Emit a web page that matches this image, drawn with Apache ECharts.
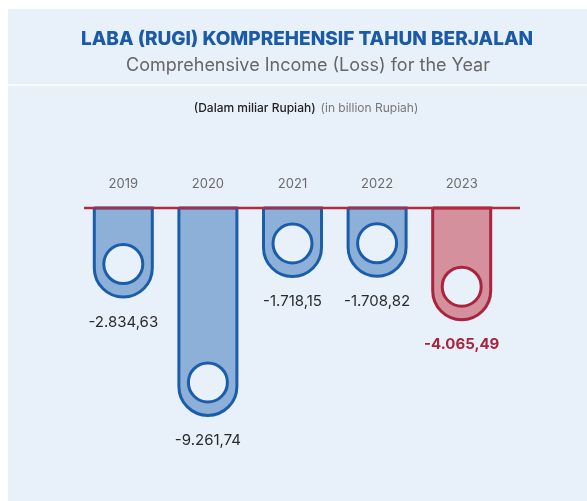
<!DOCTYPE html>
<html>
<head>
<meta charset="utf-8">
<script src="https://cdn.jsdelivr.net/npm/echarts@6/dist/echarts.min.js"></script>
<style>
  html, body { margin: 0; padding: 0; background: #ffffff; }
  #chart { width: 587px; height: 501px; }
</style>
</head>
<body>
<div id="chart"></div>
<script>
// data (miliar Rupiah)
const years = ["2019", "2020", "2021", "2022", "2023"];
const values = [-2834.63, -9261.74, -1718.15, -1708.82, -4065.49];
const labels = ["-2.834,63", "-9.261,74", "-1.718,15", "-1.708,82", "-4.065,49"];
const highlight = "2023";

const panelBg = "#e8f0fa";
const blue = { fill: "#8db0d8", stroke: "#1c5dab" };
const red = { fill: "#d4909c", stroke: "#a9243c" };

// top of the value axis is where the bars hang from
const axisTop = 2000;
const axisBottom = -10000;

const renderBar = (params, api) => {
  const i = api.value(0);
  const top = api.coord([i, axisTop]);
  const end = api.coord([i, api.value(1)]);
  const w = 58;
  const r = w / 2;
  const c = years[i] === highlight ? red : blue;
  const bottom = end[1];
  const cx = top[0];
  return {
    type: "group",
    children: [
      {
        type: "rect",
        shape: { x: cx - w / 2, y: top[1], width: w, height: bottom - top[1], r: [0, 0, r, r] },
        style: { fill: c.fill, stroke: c.stroke, lineWidth: 3 }
      },
      {
        type: "circle",
        shape: { cx: cx, cy: bottom - 33, r: 19.5 },
        style: { fill: panelBg, stroke: c.stroke, lineWidth: 3 }
      },
      {
        type: "text",
        style: {
          x: cx, y: bottom + 25,
          text: labels[i],
          align: "center", verticalAlign: "middle",
          font: (years[i] === highlight ? "bold " : "") + "15px Inter, Roboto, sans-serif",
          fill: years[i] === highlight ? red.stroke : "#2b2b2b"
        }
      }
    ]
  };
};

const chart = echarts.init(document.getElementById("chart"));
chart.setOption({
  backgroundColor: "#ffffff",
  animation: false,
  graphic: [
    { type: "rect", z: -10, shape: { x: 8, y: 9, width: 579, height: 492 }, style: { fill: panelBg } },
    { type: "line", z: -5, shape: { x1: 8, y1: 85, x2: 587, y2: 85 }, style: { stroke: "#ffffff", lineWidth: 1.5 } },
    { type: "line", z: 100, shape: { x1: 84, y1: 208, x2: 520, y2: 208 }, style: { stroke: "#b02a40", lineWidth: 2.5 } }
  ],
  title: [
    {
      text: "LABA (RUGI) KOMPREHENSIF TAHUN BERJALAN",
      left: 302, top: 25, textAlign: "center",
      textStyle: { fontFamily: "Inter, Roboto, sans-serif", fontWeight: 800, fontSize: 19, color: "#1a5aa8" }
    },
    {
      text: "Comprehensive Income (Loss) for the Year",
      left: 303, top: 52, textAlign: "center",
      textStyle: { fontFamily: "Inter, Roboto, sans-serif", fontWeight: "normal", fontSize: 18, color: "#666666" }
    },
    {
      text: "{a|(Dalam miliar Rupiah)} {b|(in billion Rupiah)}",
      left: 301, top: 94, textAlign: "center",
      textStyle: {
        fontWeight: "normal",
        rich: {
          a: { fontFamily: "Inter, Roboto, sans-serif", fontWeight: 500, fontSize: 12, color: "#222222" },
          b: { fontFamily: "Inter, Roboto, sans-serif", fontWeight: "normal", fontSize: 12, color: "#777777" }
        }
      }
    }
  ],
  grid: { left: 81, top: 208, width: 423, height: 221 },
  xAxis: {
    type: "category",
    data: years,
    position: "top",
    axisLine: { show: false },
    axisTick: { show: false },
    axisLabel: { margin: 17, fontSize: 13, color: "#6b6b6b", fontFamily: "Inter, Roboto, sans-serif" }
  },
  yAxis: {
    type: "value",
    min: axisBottom,
    max: axisTop,
    show: false
  },
  series: [{
    type: "custom",
    renderItem: renderBar,
    data: values.map((v, i) => [i, v]),
    clip: false
  }]
});
</script>
</body>
</html>
